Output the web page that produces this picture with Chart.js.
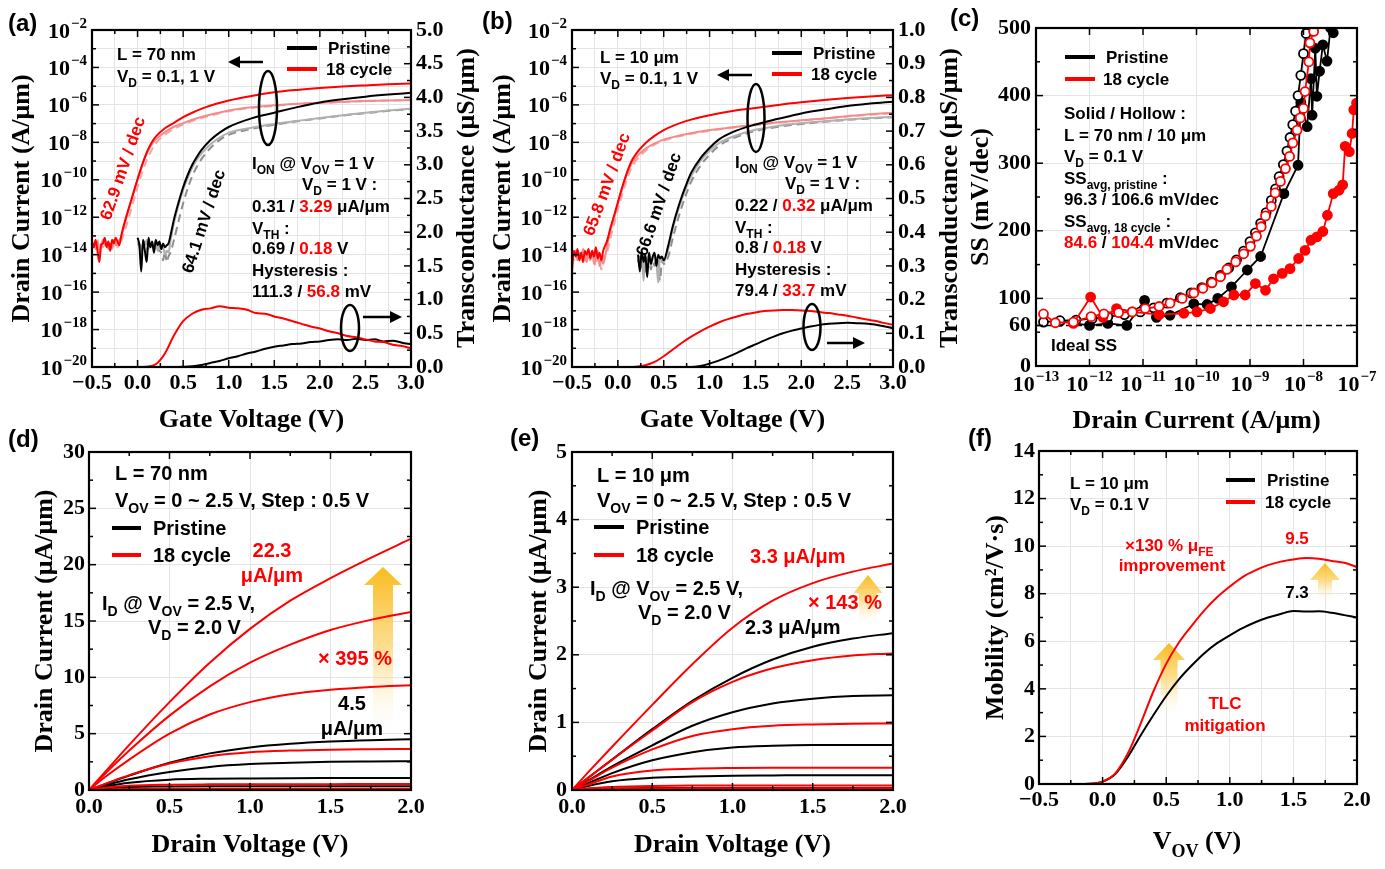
<!DOCTYPE html>
<html>
<head>
<meta charset="utf-8">
<script src="https://cdn.jsdelivr.net/npm/chart.js@4.4.1/dist/chart.umd.min.js"></script>
<style>
  html, body { margin: 0; padding: 0; background: #fff; }
  #fig { position: relative; width: 1385px; height: 869px; overflow: hidden; background: #fff; }
  #fig canvas { position: absolute; }
</style>
</head>
<body>
<div id="fig">
  <canvas id="pa"></canvas>
  <canvas id="pb"></canvas>
  <canvas id="pc"></canvas>
  <canvas id="pd"></canvas>
  <canvas id="pe"></canvas>
  <canvas id="pf"></canvas>
</div>
<script>
// ---- (a) L = 70 nm transfer curves ----
const aRedVg = [-0.50, -0.48, -0.46, -0.44, -0.42, -0.40, -0.38, -0.36, -0.34, -0.32, -0.30, -0.28, -0.26, -0.24, -0.22, -0.20, -0.18,
  -0.16, -0.12, -0.08, -0.04, 0.00, 0.05, 0.10, 0.15, 0.20, 0.30, 0.40, 0.50, 0.60, 0.75, 1.00, 1.25, 1.50, 1.75, 2.00, 2.25, 2.50, 2.75, 3.00];
const aRedHi = [5e-14, 2.5e-14, 6.3e-14, 1.6e-14, 4e-15, 3.2e-14, 4e-14, 8e-14, 2.5e-14, 5e-14, 1.6e-14, 6.3e-14, 4e-14, 8e-14, 5e-14, 3.2e-14, 1e-13,
  2.5e-13, 1.26e-12, 5.6e-12, 2.5e-11, 1.1e-10, 6.3e-10, 2.8e-9, 8.9e-9, 2e-8, 5.6e-8, 1.1e-7, 2.2e-7, 3.8e-7, 7.6e-7, 1.7e-6, 3e-6, 4.7e-6, 6.3e-6, 7.9e-6, 9.5e-6, 1.1e-5, 1.26e-5, 1.4e-5];
const aRedLo = [3.2e-14, 4e-14, 2e-14, 5e-14, 1.26e-14, 2.5e-14, 6.3e-14, 3.2e-14, 5e-14, 2e-14, 4e-14, 2.5e-14, 6.3e-14, 3.2e-14, 4e-14, 6.3e-14, 8e-14,
  2e-13, 1e-12, 5e-12, 2.2e-11, 1e-10, 5.6e-10, 2.4e-9, 7.1e-9, 1.4e-8, 3.5e-8, 6.8e-8, 1.07e-7, 1.6e-7, 2.6e-7, 5e-7, 7.4e-7, 9.5e-7, 1.15e-6, 1.32e-6, 1.48e-6, 1.62e-6, 1.74e-6, 1.82e-6];
const aRedRev = [4e-14, 2.5e-14, 3.2e-14, 6.3e-14, 2e-14, 4e-14, 2.5e-14, 5e-14, 3.2e-14, 3.2e-14, 5e-14, 2e-14, 4e-14, 5e-14, 2.5e-14, 4e-14, 5e-14,
  1e-13, 4e-13, 1.8e-12, 8.9e-12, 4e-11, 2.5e-10, 1.1e-9, 3.5e-9, 8.9e-9, 2.5e-8, 5.2e-8, 8.9e-8, 1.38e-7, 2.3e-7, 4.6e-7, 6.9e-7, 8.9e-7, 1.1e-6, 1.26e-6, 1.41e-6, 1.58e-6, 1.7e-6, 1.78e-6];
const aBlkVg = [0.00, 0.02, 0.04, 0.06, 0.08, 0.10, 0.12, 0.14, 0.16, 0.18, 0.20, 0.22, 0.24, 0.26, 0.28, 0.30, 0.32, 0.34,
  0.36, 0.40, 0.45, 0.50, 0.55, 0.60, 0.65, 0.70, 0.80, 0.90, 1.00, 1.25, 1.50, 1.75, 2.00, 2.25, 2.50, 2.75, 3.00];
const aBlkHi = [7.9e-14, 3.2e-14, 1.26e-15, 6.3e-14, 1.6e-14, 4e-15, 7.9e-14, 2.5e-14, 5e-14, 1.26e-14, 6.3e-14, 3.2e-14, 5e-14, 2e-14, 4e-14, 2.5e-14, 3.2e-14, 4e-14,
  1e-13, 7.9e-13, 6.3e-12, 4e-11, 1.8e-10, 6.3e-10, 1.66e-9, 3.8e-9, 1.32e-8, 3.3e-8, 6.6e-8, 1.9e-7, 3.8e-7, 7.6e-7, 1.35e-6, 2e-6, 2.75e-6, 3.55e-6, 4.4e-6];
const aBlkLo = [5e-14, 2.5e-14, 1.26e-14, 4e-14, 3.2e-14, 6.3e-14, 2e-14, 4e-14, 2.5e-14, 3.2e-14, 5e-14, 1.6e-14, 3.2e-14, 2e-14, 2.5e-14, 1e-14, 1.6e-14, 1.26e-14,
  5e-14, 5e-13, 4.5e-12, 2.8e-11, 1.26e-10, 4.5e-10, 1.17e-9, 2.5e-9, 7.9e-9, 1.8e-8, 3.2e-8, 6e-8, 9.5e-8, 1.4e-7, 2e-7, 2.8e-7, 3.8e-7, 5e-7, 6.3e-7];
const aBlkRev = [3.2e-14, 4e-14, 2e-14, 2.5e-14, 5e-14, 1.6e-14, 3.2e-14, 2.5e-14, 4e-14, 2e-14, 3.2e-14, 2.5e-14, 1.6e-14, 1.26e-14, 5e-15, 1.6e-14, 4e-15, 8e-15,
  1.26e-14, 6.3e-14, 6.3e-13, 5.6e-12, 3.5e-11, 1.6e-10, 5e-10, 1.26e-9, 5e-9, 1.32e-8, 2.5e-8, 5.2e-8, 8.7e-8, 1.32e-7, 1.9e-7, 2.7e-7, 3.6e-7, 4.8e-7, 6e-7];
const gmVg = [-0.5, -0.4, -0.3, -0.2, -0.1, 0.0, 0.1, 0.2, 0.3, 0.4, 0.5, 0.6, 0.7, 0.8, 0.9, 1.0, 1.1, 1.2, 1.3, 1.4, 1.5, 1.6, 1.7, 1.8,
  1.9, 2.0, 2.1, 2.2, 2.3, 2.4, 2.5, 2.6, 2.7, 2.8, 2.9, 3.0];
const aGmRed = [0, 0, 0, 0, 0, 0, 0.005, 0.04, 0.2, 0.47, 0.68, 0.79, 0.85, 0.87, 0.9, 0.88, 0.87, 0.85, 0.8, 0.79, 0.75, 0.72, 0.68, 0.64,
  0.6, 0.57, 0.53, 0.5, 0.46, 0.44, 0.41, 0.38, 0.37, 0.33, 0.31, 0.28];
const aGmBlk = [0, 0, 0, 0, 0, 0, 0, 0, 0, 0, 0.003, 0.01, 0.03, 0.06, 0.09, 0.13, 0.16, 0.2, 0.23, 0.27, 0.3, 0.32, 0.34, 0.35,
  0.37, 0.38, 0.4, 0.41, 0.4, 0.42, 0.4, 0.41, 0.38, 0.39, 0.36, 0.34];

// ---- (b) L = 10 um transfer curves ----
const bRedVg = [-0.50, -0.48, -0.46, -0.44, -0.42, -0.40, -0.38, -0.36, -0.34, -0.32, -0.30, -0.28, -0.26, -0.24, -0.22, -0.20, -0.18, -0.16,
  -0.12, -0.08, -0.04, 0.00, 0.05, 0.10, 0.15, 0.20, 0.30, 0.40, 0.50, 0.60, 0.75, 1.00, 1.25, 1.50, 1.75, 2.00, 2.25, 2.50, 2.75, 3.00];
const bRedHi = [1.26e-15, 1.6e-14, 8e-15, 2e-14, 5e-15, 1.26e-14, 4e-15, 1.6e-14, 1e-14, 2e-14, 6.3e-15, 1.6e-14, 8e-15, 2.5e-14, 6.3e-15, 1.26e-14, 5e-15, 1.6e-14,
  5e-14, 2.8e-13, 1.26e-12, 6.3e-12, 4.5e-11, 2.5e-10, 1e-9, 2.5e-9, 8.9e-9, 2.2e-8, 4.5e-8, 7.6e-8, 1.4e-7, 2.8e-7, 4.7e-7, 6.8e-7, 1e-6, 1.38e-6, 1.82e-6, 2.3e-6, 2.8e-6, 3.3e-6];
const bRedLo = [6.3e-15, 1e-14, 1.6e-14, 5e-15, 1.26e-14, 8e-15, 2e-14, 1e-14, 4e-15, 1.26e-14, 8e-15, 1.6e-14, 3.2e-15, 1e-14, 1.6e-14, 2.5e-15, 6.3e-15, 3.2e-15,
  2.5e-14, 2e-13, 1e-12, 5e-12, 3.5e-11, 2e-10, 7.1e-10, 1.6e-9, 4.5e-9, 8.9e-9, 1.4e-8, 1.9e-8, 2.8e-8, 4.5e-8, 6.3e-8, 8.7e-8, 1.17e-7, 1.5e-7, 1.9e-7, 2.5e-7, 3.2e-7, 3.8e-7];
const bRedRev = [1e-14, 5e-15, 1.26e-14, 8e-15, 4e-15, 1.6e-14, 6.3e-15, 3.2e-15, 1.26e-14, 8e-15, 5e-15, 1e-14, 6.3e-15, 2.5e-15, 8e-15, 5e-15, 1.6e-15, 6.3e-15,
  1.26e-14, 8e-14, 4.5e-13, 2.5e-12, 1.8e-11, 1.1e-10, 4.5e-10, 1.1e-9, 3.5e-9, 7.6e-9, 1.26e-8, 1.74e-8, 2.6e-8, 4.2e-8, 6e-8, 8.3e-8, 1.12e-7, 1.45e-7, 1.86e-7, 2.4e-7, 3e-7, 3.6e-7];
const bBlkVg = [0.22, 0.24, 0.26, 0.28, 0.30, 0.32, 0.34, 0.36, 0.38, 0.40, 0.42, 0.44, 0.46, 0.48, 0.50,
  0.55, 0.60, 0.65, 0.70, 0.75, 0.80, 0.90, 1.00, 1.10, 1.25, 1.50, 1.75, 2.00, 2.25, 2.50, 2.75, 3.00];
const bBlkHi = [1e-14, 1.26e-15, 1.6e-14, 4e-15, 1e-14, 6.3e-16, 1.26e-14, 3.2e-15, 8e-15, 1.26e-14, 2.5e-15, 1e-14, 6.3e-15, 8e-15, 5e-15,
  3.2e-14, 3.5e-13, 2.5e-12, 1.4e-11, 6.3e-11, 2.4e-10, 1.4e-9, 5e-9, 1.4e-8, 3.5e-8, 8.9e-8, 1.8e-7, 3.5e-7, 5.6e-7, 8.7e-7, 1.17e-6, 1.48e-6];
const bBlkLo = [6.3e-15, 3.2e-15, 1e-14, 4e-16, 8e-15, 5e-15, 1.26e-14, 2.5e-15, 6.3e-15, 1e-14, 4e-15, 3.2e-16, 8e-15, 5e-15, 4e-15,
  2e-14, 2.5e-13, 1.8e-12, 1e-11, 4.5e-11, 1.6e-10, 1e-9, 3.5e-9, 8.9e-9, 2e-8, 4.7e-8, 7.6e-8, 1.05e-7, 1.35e-7, 1.66e-7, 2e-7, 2.3e-7];
const bBlkRev = [4e-15, 8e-15, 2e-15, 6.3e-15, 1.26e-15, 5e-15, 8e-15, 1.6e-15, 4e-15, 2.5e-15, 6.3e-15, 3.2e-15, 4e-16, 5e-15, 3.2e-15,
  8e-15, 8e-14, 6.3e-13, 4e-12, 2e-11, 8e-11, 5.6e-10, 2.2e-9, 6.3e-9, 1.6e-8, 4e-8, 6.8e-8, 9.5e-8, 1.26e-7, 1.58e-7, 1.9e-7, 2.2e-7];
const bGmRed = [0, 0, 0, 0, 0, 0, 0, 0.001, 0.005, 0.015, 0.032, 0.052, 0.072, 0.09, 0.106, 0.12, 0.132, 0.142, 0.15, 0.157, 0.162, 0.166, 0.168, 0.169,
  0.169, 0.168, 0.166, 0.163, 0.16, 0.156, 0.152, 0.147, 0.142, 0.137, 0.131, 0.125];
const bGmBlk = [0, 0, 0, 0, 0, 0, 0, 0, 0, 0, 0, 0, 0, 0, 0.003, 0.01, 0.019, 0.03, 0.042, 0.055, 0.067, 0.079, 0.09, 0.1,
  0.108, 0.114, 0.12, 0.125, 0.128, 0.13, 0.131, 0.13, 0.129, 0.126, 0.121, 0.115];

// ---- (c) SS vs drain current ----
const cHolBlkI = [1.38e-13, 2.8e-13, 5.6e-13, 1.12e-12, 2.2e-12, 4.5e-12, 8.9e-12, 1.58e-11, 2.8e-11, 5e-11, 7.9e-11, 1.26e-10, 1.9e-10, 2.8e-10, 4e-10, 5.6e-10, 7.6e-10,
  1e-9, 1.26e-9, 1.58e-9, 2e-9, 2.5e-9, 3e-9, 3.5e-9, 4.2e-9, 4.9e-9, 5.6e-9, 6.3e-9, 7.1e-9, 7.9e-9, 8.9e-9, 1e-8, 1.12e-8, 1.26e-8];
const cHolBlkSS = [65, 67, 68, 70, 73, 76, 80, 86, 93, 101, 108, 116, 124, 134, 145, 157, 170,
  184, 197, 211, 227, 245, 262, 280, 298, 318, 338, 357, 377, 400, 430, 462, 492, 520];
const cHolRedI = [1.38e-13, 2.3e-13, 5e-13, 1.07e-12, 1.86e-12, 3.5e-12, 6.3e-12, 1.1e-11, 2e-11, 3.2e-11, 5.4e-11, 8.9e-11, 1.32e-10, 1.95e-10, 2.8e-10, 3.7e-10, 5.4e-10, 7.6e-10,
  1.02e-9, 1.32e-9, 1.62e-9, 1.95e-9, 2.5e-9, 2.95e-9, 3.7e-9, 4.6e-9, 5.5e-9, 6.3e-9, 7.6e-9, 8.7e-9, 1e-8, 1.07e-8, 1.26e-8, 1.32e-8, 1.55e-8, 1.74e-8];
const cHolRedSS = [77, 64, 65, 73, 77, 79, 80, 85, 88, 93, 100, 108, 115, 123, 132, 143, 154, 166,
  177, 192, 206, 222, 236, 256, 273, 292, 310, 330, 349, 367, 381, 406, 450, 478, 495, 520];
const cSolBlkI = [2.8e-13, 1e-12, 2.2e-12, 5e-12, 1.07e-11, 1.78e-11, 3.2e-11, 8.9e-11, 1.58e-10, 2.5e-10, 4.5e-10, 8.9e-10, 1.58e-9,
  4.3e-9, 7.9e-9, 8.9e-9, 1.17e-8, 1.38e-8, 1.45e-8, 1.66e-8, 1.78e-8, 2e-8, 2.3e-8, 2.75e-8, 3.2e-8, 3.6e-8];
const cSolBlkSS = [66, 60, 63, 60, 97, 72, 75, 92, 91, 100, 117, 142, 162,
  255, 297, 390, 354, 425, 371, 470, 399, 436, 475, 451, 500, 493];
const cSolRedI = [5e-13, 1.05e-12, 1.78e-12, 3.2e-12, 6.3e-12, 2e-11, 5.8e-11, 1.02e-10, 1.82e-10, 3.2e-10, 5e-10, 8.1e-10, 1.26e-9, 1.95e-9, 2.75e-9, 4e-9,
  5.6e-9, 8.1e-9, 1.07e-8, 1.38e-8, 1.78e-8, 2.3e-8, 2.8e-8, 3.6e-8, 4.6e-8, 5.4e-8, 6e-8, 7.2e-8, 8.1e-8, 8.7e-8, 9.8e-8];
const cSolRedSS = [63, 102, 72, 85, 80, 76, 78, 80, 85, 95, 105, 105, 122, 112, 129, 137,
  144, 159, 171, 186, 191, 199, 223, 255, 260, 268, 325, 317, 344, 379, 389];
const cIdealI = [1e-13, 1e-7];
const cIdealSS = [60, 60];

// ---- (d) / (e) output curves, Vov = 2.5, 2.0, 1.5, 1.0, 0.5, 0 V ----
const outVd = [0, 0.1, 0.25, 0.5, 0.75, 1.0, 1.25, 1.5, 1.75, 2.0];
const dRed = [
  [0, 1.6, 4.0, 7.8, 11.3, 14.3, 16.8, 18.8, 20.6, 22.3],
  [0, 1.45, 3.5, 6.6, 9.2, 11.3, 12.9, 14.2, 15.1, 15.8],
  [0, 1.15, 2.7, 5.0, 6.7, 7.8, 8.5, 8.9, 9.15, 9.3],
  [0, 0.54, 1.32, 2.35, 3.0, 3.35, 3.5, 3.58, 3.62, 3.65],
  [0, 0.2, 0.38, 0.47, 0.5, 0.51, 0.52, 0.52, 0.53, 0.53],
  [0, 0.05, 0.09, 0.11, 0.115, 0.12, 0.12, 0.12, 0.12, 0.12]
];
const dBlk = [
  [0, 0.52, 1.28, 2.42, 3.25, 3.78, 4.1, 4.3, 4.42, 4.5],
  [0, 0.4, 0.95, 1.6, 2.05, 2.3, 2.42, 2.5, 2.53, 2.55],
  [0, 0.3, 0.65, 0.92, 1.0, 1.03, 1.05, 1.06, 1.07, 1.07],
  [0, 0.15, 0.27, 0.31, 0.33, 0.33, 0.34, 0.34, 0.34, 0.34],
  [0, 0.03, 0.05, 0.06, 0.06, 0.06, 0.06, 0.06, 0.06, 0.06],
  [0, 0.005, 0.008, 0.01, 0.01, 0.01, 0.01, 0.01, 0.01, 0.01]
];
const eRed = [
  [0, 0.26, 0.64, 1.26, 1.86, 2.4, 2.8, 3.06, 3.23, 3.35],
  [0, 0.18, 0.45, 0.88, 1.3, 1.6, 1.8, 1.92, 1.99, 2.02],
  [0, 0.13, 0.33, 0.6, 0.8, 0.9, 0.95, 0.97, 0.98, 0.985],
  [0, 0.08, 0.2, 0.29, 0.315, 0.325, 0.33, 0.33, 0.33, 0.33],
  [0, 0.025, 0.045, 0.06, 0.065, 0.065, 0.065, 0.065, 0.065, 0.065],
  [0, 0.01, 0.02, 0.025, 0.025, 0.025, 0.025, 0.025, 0.025, 0.025]
];
const eBlk = [
  [0, 0.18, 0.45, 0.9, 1.32, 1.66, 1.93, 2.12, 2.24, 2.32],
  [0, 0.14, 0.35, 0.66, 0.95, 1.15, 1.28, 1.35, 1.39, 1.4],
  [0, 0.1, 0.25, 0.44, 0.56, 0.63, 0.655, 0.665, 0.665, 0.665],
  [0, 0.06, 0.13, 0.18, 0.2, 0.21, 0.215, 0.22, 0.22, 0.22],
  [0, 0.01, 0.02, 0.03, 0.03, 0.03, 0.03, 0.03, 0.03, 0.03],
  [0, 0.002, 0.004, 0.005, 0.005, 0.005, 0.005, 0.005, 0.005, 0.005]
];

// ---- (f) field-effect mobility ----
const fVov = [-0.5, -0.4, -0.3, -0.2, -0.1, 0.0, 0.1, 0.2, 0.3, 0.4, 0.5, 0.6, 0.7, 0.8, 0.9, 1.0, 1.1, 1.2, 1.3, 1.4, 1.5, 1.6, 1.7, 1.8, 1.9, 2.0];
const fRed = [0, 0, 0, 0, 0.01, 0.1, 0.45, 1.3, 2.55, 3.9, 5.05, 5.95, 6.65, 7.3, 7.85, 8.3, 8.7, 8.98, 9.2, 9.35, 9.44, 9.5, 9.47, 9.38, 9.3, 9.12];
const fBlk = [0, 0, 0, 0, 0.01, 0.1, 0.42, 1.15, 2.05, 2.9, 3.7, 4.4, 4.98, 5.5, 5.92, 6.25, 6.55, 6.8, 7.0, 7.15, 7.27, 7.25, 7.26, 7.2, 7.1, 7.0];

// ---------------------------------------------------------------
const SERIF = '"Liberation Serif", "Times New Roman", serif';
const SANS = '"Liberation Sans", Arial, sans-serif';
const RED = '#ff0000';
const PINK = '#f38b8b';
const PINK_D = '#f5a5a5';
const LGRAY = '#b0b0b0';
const DGRAY = '#8e8e8e';
const GRID = '#e4e4e4';
const CLEAR = 'rgba(0,0,0,0)';
const DECO = {};

function pow10(v) {
  return '10^' + Math.round(Math.log10(v));
}

function evenPow10(v) {
  const e = Math.round(Math.log10(v));
  return e % 2 === 0 ? pow10(v) : '';
}

function decades(a, b) {
  const out = [];
  for (let e = a; e <= b; e++) out.push(Number('1e' + e));
  return out;
}

function fmt(v, d) {
  if (Math.abs(v) < 1e-9) v = 0;
  return (v < 0 ? '\u2212' : '') + Math.abs(v).toFixed(d);
}

const sub = s => ({s: s, sub: true});
const red = s => ({s: s, c: RED});

function xy(xs, ys) {
  return xs.map((x, i) => ({x: x, y: ys[i]}));
}

function ds(xs, ys, color, dash, axis) {
  return {
    data: xy(xs, ys), borderColor: color, borderWidth: 2, borderDash: dash || [],
    pointRadius: 0, fill: false, cubicInterpolationMode: 'monotone', yAxisID: axis || 'y'
  };
}

function pts(xs, ys, color, hollow) {
  return {
    data: xy(xs, ys), borderColor: color, borderWidth: 1.8, tension: 0, fill: false,
    pointRadius: 4.5, pointBorderWidth: 1.8, pointBorderColor: color,
    pointBackgroundColor: hollow ? '#ffffff' : color
  };
}

function mkScale(o, rect, box) {
  const vert = o.pos === 'left' || o.pos === 'right';
  const LH = 26 * 1.2;
  let size, tpad;
  if (o.pos === 'left') {
    size = box.l - rect.x;
    tpad = o.titleAt - rect.x - LH / 2;
  } else if (o.pos === 'right') {
    size = rect.x + rect.w - box.r;
    tpad = 0;
  } else {
    size = rect.y + rect.h - box.b;
    tpad = rect.y + rect.h - o.titleAt - LH / 2;
  }
  const isMaj = v => !o.major || Math.abs(v / o.major - Math.round(v / o.major)) < 1e-6;
  const tickPad = vert ? (o.tickPad || 5) : (o.labelAt - box.b - 22 * 1.2 / 2);
  const s = {
    type: o.log ? 'logarithmic' : 'linear',
    position: o.pos,
    min: o.min,
    max: o.max,
    ticks: {
      autoSkip: false, maxRotation: 0, minRotation: 0, padding: tickPad,
      color: o.log ? CLEAR : '#000',   // log labels are drawn with real superscripts by the plugin
      font: {family: SERIF, size: 22, weight: 'bold', lineHeight: 1.2},
      callback: v => o.label ? o.label(v) : (isMaj(v) ? fmt(v, o.dec) : '')
    },
    grid: {
      drawTicks: false, lineWidth: 1, drawOnChartArea: o.grid !== 'none',
      color: c => {
        const t = c.tick;
        if (!t) return CLEAR;
        const on = o.gridIf ? o.gridIf(t.value) : (o.grid === 'all' || t.label !== '');
        return on ? GRID : CLEAR;
      }
    },
    border: {display: false},
    title: o.title ? {
      display: true, text: o.title, color: '#000',
      font: {family: SERIF, size: 26, weight: 'bold', lineHeight: 1.2},
      padding: vert ? {top: tpad, bottom: 0} : {top: 0, bottom: tpad}
    } : {display: false},
    afterFit: sc => {
      if (vert) { sc.width = size; sc.paddingTop = 0; sc.paddingBottom = 0; }
      else { sc.height = size; sc.paddingLeft = 0; sc.paddingRight = 0; }
    }
  };
  if (o.step) s.ticks.stepSize = o.step;
  if (o.tickList) s.afterBuildTicks = sc => { sc.ticks = o.tickList.map(v => ({value: v})); };
  return s;
}

function drawRich(ctx, x, y, parts, o) {
  const size = o.size, fam = o.fam || SANS;
  const segs = parts.map(p => typeof p === 'string' ? {s: p} : Object.assign({}, p));
  const fontOf = sg => 'bold ' + (sg.sub ? Math.round(size * 0.68) : size) + 'px ' + fam;
  let total = 0;
  segs.forEach(sg => { ctx.font = fontOf(sg); sg.w = ctx.measureText(sg.s).width; total += sg.w; });
  ctx.save();
  ctx.translate(x, y);
  if (o.rot) ctx.rotate(o.rot * Math.PI / 180);
  ctx.textBaseline = 'alphabetic';
  ctx.textAlign = 'left';
  let cx = o.align === 'center' ? -total / 2 : 0;
  const base = size * 0.36;
  segs.forEach(sg => {
    ctx.font = fontOf(sg);
    ctx.fillStyle = sg.c || o.color || '#000';
    ctx.fillText(sg.s, cx, base + (sg.sub ? size * 0.3 : 0));
    cx += sg.w;
  });
  ctx.restore();
}

// "10" with a raised exponent, like the printed log tick labels
function drawPow(ctx, x, y, e, align) {
  const big = 'bold 22px ' + SERIF, small = 'bold 15px ' + SERIF;
  const exp = (e < 0 ? '\u2212' : '') + Math.abs(e);
  ctx.save();
  ctx.font = big;
  const w1 = ctx.measureText('10').width;
  ctx.font = small;
  const w2 = ctx.measureText(exp).width;
  const total = w1 + 1 + w2;
  const x0 = align === 'right' ? x - total : x - total / 2;
  const base = y + 7.5;
  ctx.fillStyle = '#000';
  ctx.textBaseline = 'alphabetic';
  ctx.textAlign = 'left';
  ctx.font = big;
  ctx.fillText('10', x0, base);
  ctx.font = small;
  ctx.fillText(exp, x0 + w1 + 1, base - 10);
  ctx.restore();
}

function drawPowLabels(chart, P) {
  const ctx = chart.ctx, ca = chart.chartArea;
  ['x', 'y'].forEach(key => {
    const o = P[key];
    if (!o.log) return;
    const sc = chart.scales[key];
    sc.ticks.forEach(t => {
      if (!t.label) return;
      const e = Math.round(Math.log10(t.value));
      const p = sc.getPixelForValue(t.value);
      if (key === 'y') drawPow(ctx, ca.left - (o.tickPad || 5), p, e, 'right');
      else drawPow(ctx, p, ca.bottom + (o.labelAt - P.box.b), e, 'center');
    });
  });
}

function arrow(ctx, x1, y1, x2, y2) {
  const ang = Math.atan2(y2 - y1, x2 - x1), hl = 12, hw = 6;
  const bx = x2 - Math.cos(ang) * hl, by = y2 - Math.sin(ang) * hl;
  ctx.strokeStyle = '#000';
  ctx.lineWidth = 2.5;
  ctx.beginPath(); ctx.moveTo(x1, y1); ctx.lineTo(bx, by); ctx.stroke();
  ctx.fillStyle = '#000';
  ctx.beginPath();
  ctx.moveTo(x2, y2);
  ctx.lineTo(bx + Math.sin(ang) * hw, by - Math.cos(ang) * hw);
  ctx.lineTo(bx - Math.sin(ang) * hw, by + Math.cos(ang) * hw);
  ctx.closePath(); ctx.fill();
}

function drawAnn(chart, under) {
  const P = DECO[chart.canvas.id];
  if (!P) return;
  const ctx = chart.ctx, ca = chart.chartArea, box = P.box;
  const sx = (ca.right - ca.left) / (box.r - box.l), sy = (ca.bottom - ca.top) / (box.b - box.t);
  const m = (x, y) => [ca.left + (x - box.l) * sx, ca.top + (y - box.t) * sy];
  P.ann.forEach(a => {
    if ((a.k === 'y') !== under) return;
    ctx.save();
    if (a.k === 't') {
      const [x, y] = m(a.x, a.y);
      drawRich(ctx, x, y, a.p, Object.assign({}, a, {size: a.size || P.fs}));
    } else if (a.k === 'l') {
      const [x1, y1] = m(a.x1, a.y1), [x2, y2] = m(a.x2, a.y2);
      ctx.strokeStyle = a.c; ctx.lineWidth = 4;
      ctx.beginPath(); ctx.moveTo(x1, y1); ctx.lineTo(x2, y2); ctx.stroke();
    } else if (a.k === 'a') {
      const [x1, y1] = m(a.x1, a.y1), [x2, y2] = m(a.x2, a.y2);
      arrow(ctx, x1, y1, x2, y2);
    } else if (a.k === 'e') {
      const [x, y] = m(a.x, a.y);
      ctx.strokeStyle = '#000'; ctx.lineWidth = 2.5;
      ctx.beginPath(); ctx.ellipse(x, y, a.rx * sx, a.ry * sy, 0, 0, Math.PI * 2); ctx.stroke();
    } else if (a.k === 'y') {
      const [cx, tip] = m(a.x, a.tip), base = m(a.x, a.base)[1], bot = m(a.x, a.bot)[1];
      const g = ctx.createLinearGradient(0, tip, 0, bot);
      g.addColorStop(0, 'rgba(249,184,18,0.95)');
      g.addColorStop(0.5, 'rgba(252,208,96,0.7)');
      g.addColorStop(1, 'rgba(255,244,220,0.05)');
      ctx.fillStyle = g;
      ctx.beginPath();
      ctx.moveTo(cx, tip);
      ctx.lineTo(cx + a.hw, base); ctx.lineTo(cx + a.sw, base); ctx.lineTo(cx + a.sw, bot);
      ctx.lineTo(cx - a.sw, bot); ctx.lineTo(cx - a.sw, base); ctx.lineTo(cx - a.hw, base);
      ctx.closePath(); ctx.fill();
    }
    ctx.restore();
  });
}

function tickMarks(ctx, sc, ca, sides) {
  sc.ticks.forEach(t => {
    const p = sc.getPixelForValue(t.value);
    const len = t.label ? 7 : 4;
    sides.forEach(side => {
      ctx.beginPath();
      if (side === 'bottom') { ctx.moveTo(p, ca.bottom); ctx.lineTo(p, ca.bottom - len); }
      if (side === 'top') { ctx.moveTo(p, ca.top); ctx.lineTo(p, ca.top + len); }
      if (side === 'left') { ctx.moveTo(ca.left, p); ctx.lineTo(ca.left + len, p); }
      if (side === 'right') { ctx.moveTo(ca.right, p); ctx.lineTo(ca.right - len, p); }
      ctx.stroke();
    });
  });
}

const decoPlugin = {
  id: 'deco',
  beforeDatasetsDraw(chart) { drawAnn(chart, true); },
  afterDraw(chart) {
    const {ctx, chartArea: ca, scales} = chart;
    ctx.save();
    ctx.strokeStyle = '#000';
    ctx.lineWidth = 1.5;
    tickMarks(ctx, scales.x, ca, ['bottom', 'top']);
    if (scales.y2) {
      tickMarks(ctx, scales.y, ca, ['left']);
      tickMarks(ctx, scales.y2, ca, ['right']);
    } else {
      tickMarks(ctx, scales.y, ca, ['left', 'right']);
    }
    ctx.lineWidth = 2.2;
    ctx.strokeRect(ca.left, ca.top, ca.right - ca.left, ca.bottom - ca.top);
    ctx.restore();
    drawPowLabels(chart, DECO[chart.canvas.id]);
    drawAnn(chart, false);
  }
};

function buildPanel(id, P) {
  const cv = document.getElementById(id);
  const {rect, box} = P;
  cv.width = rect.w; cv.height = rect.h;
  cv.style.left = rect.x + 'px'; cv.style.top = rect.y + 'px';
  cv.style.width = rect.w + 'px'; cv.style.height = rect.h + 'px';
  DECO[id] = P;
  const scales = {x: mkScale(P.x, rect, box), y: mkScale(P.y, rect, box)};
  if (P.y2) scales.y2 = mkScale(P.y2, rect, box);
  return new Chart(cv, {
    type: 'line',
    data: {datasets: P.datasets},
    options: {
      responsive: false,
      animation: false,
      events: [],
      layout: {
        autoPadding: false,
        padding: {top: box.t - rect.y, left: 0, bottom: 0, right: P.y2 ? 0 : rect.x + rect.w - box.r}
      },
      plugins: {legend: {display: false}, tooltip: {enabled: false}},
      scales: scales
    },
    plugins: [decoPlugin]
  });
}

function outputSets(red, blk) {
  const sets = [];
  red.forEach(r => sets.push(ds(outVd, r, RED)));
  blk.forEach(b => sets.push(ds(outVd, b, '#000')));
  return sets;
}

// ---- panel (a) ----
buildPanel('pa', {
  rect: {x: 0, y: 0, w: 482, h: 440}, box: {l: 92, t: 30, r: 411, b: 367}, fs: 17,
  x: {pos: 'bottom', min: -0.5, max: 3, step: 0.25, major: 0.5, dec: 1, labelAt: 383, titleAt: 420, title: 'Gate Voltage (V)', grid: 'all'},
  y: {pos: 'left', log: true, min: 1e-20, max: 1e-2, tickList: decades(-20, -2), label: evenPow10, tickPad: 5,
      title: 'Drain Current (A/\u03bcm)', titleAt: 22, grid: 'all'},
  y2: {pos: 'right', min: 0, max: 5, step: 0.25, major: 0.5, dec: 1, tickPad: 5, grid: 'none'},
  datasets: [
    ds(aRedVg, aRedHi, RED), ds(aBlkVg, aBlkHi, '#000'),
    ds(aRedVg, aRedLo, PINK), ds(aBlkVg, aBlkLo, LGRAY),
    ds(aRedVg, aRedRev, PINK_D, [8, 5]), ds(aBlkVg, aBlkRev, DGRAY, [8, 5]),
    ds(gmVg, aGmRed, RED, null, 'y2'), ds(gmVg, aGmBlk, '#000', null, 'y2')
  ],
  ann: [
    {k: 't', x: 8, y: 22, p: ['(a)'], size: 24},
    {k: 't', x: 465, y: 198, p: ['Transconductance (\u03bcS/\u03bcm)'], fam: SERIF, size: 26, align: 'center', rot: -90},
    {k: 't', x: 117, y: 54, p: ['L = 70 nm']},
    {k: 't', x: 117, y: 76, p: ['V', sub('D'), ' = 0.1, 1 V']},
    {k: 'a', x1: 263, y1: 62, x2: 228, y2: 62},
    {k: 'l', x1: 287, y1: 48, x2: 317, y2: 48, c: '#000'},
    {k: 't', x: 328, y: 48, p: ['Pristine']},
    {k: 'l', x1: 287, y1: 69, x2: 317, y2: 69, c: RED},
    {k: 't', x: 326, y: 69, p: ['18 cycle']},
    {k: 'e', x: 268, y: 108, rx: 9, ry: 37},
    {k: 't', x: 252, y: 163, p: ['I', sub('ON'), ' @ V', sub('OV'), ' = 1 V']},
    {k: 't', x: 302, y: 184, p: ['V', sub('D'), ' = 1 V :']},
    {k: 't', x: 252, y: 206, p: ['0.31 / ', red('3.29'), ' \u03bcA/\u03bcm']},
    {k: 't', x: 252, y: 228, p: ['V', sub('TH'), ' :']},
    {k: 't', x: 252, y: 248, p: ['0.69 / ', red('0.18'), ' V']},
    {k: 't', x: 252, y: 270, p: ['Hysteresis :']},
    {k: 't', x: 252, y: 291, p: ['111.3 / ', red('56.8'), ' mV']},
    {k: 'e', x: 350, y: 328, rx: 9, ry: 23},
    {k: 'a', x1: 363, y1: 317, x2: 402, y2: 317},
    {k: 't', x: 122, y: 168, p: ['62.9 mV / dec'], color: RED, align: 'center', rot: -71},
    {k: 't', x: 203, y: 221, p: ['64.1 mV / dec'], align: 'center', rot: -72}
  ]
});

// ---- panel (b) ----
buildPanel('pb', {
  rect: {x: 478, y: 0, w: 490, h: 440}, box: {l: 572, t: 30, r: 893, b: 367}, fs: 17,
  x: {pos: 'bottom', min: -0.5, max: 3, step: 0.25, major: 0.5, dec: 1, labelAt: 383, titleAt: 420, title: 'Gate Voltage (V)', grid: 'all'},
  y: {pos: 'left', log: true, min: 1e-20, max: 1e-2, tickList: decades(-20, -2), label: evenPow10, tickPad: 5,
      title: 'Drain Current (A/\u03bcm)', titleAt: 503, grid: 'all'},
  y2: {pos: 'right', min: 0, max: 1, step: 0.05, major: 0.1, dec: 1, tickPad: 5, grid: 'none'},
  datasets: [
    ds(bRedVg, bRedHi, RED), ds(bBlkVg, bBlkHi, '#000'),
    ds(bRedVg, bRedLo, PINK), ds(bBlkVg, bBlkLo, LGRAY),
    ds(bRedVg, bRedRev, PINK_D, [8, 5]), ds(bBlkVg, bBlkRev, DGRAY, [8, 5]),
    ds(gmVg, bGmRed, RED, null, 'y2'), ds(gmVg, bGmBlk, '#000', null, 'y2')
  ],
  ann: [
    {k: 't', x: 482, y: 20, p: ['(b)'], size: 24},
    {k: 't', x: 948, y: 198, p: ['Transconductance (\u03bcS/\u03bcm)'], fam: SERIF, size: 26, align: 'center', rot: -90},
    {k: 't', x: 600, y: 57, p: ['L = 10 \u03bcm']},
    {k: 't', x: 600, y: 78, p: ['V', sub('D'), ' = 0.1, 1 V']},
    {k: 'a', x1: 752, y1: 75, x2: 717, y2: 75},
    {k: 'l', x1: 772, y1: 53, x2: 802, y2: 53, c: '#000'},
    {k: 't', x: 813, y: 53, p: ['Pristine']},
    {k: 'l', x1: 772, y1: 74, x2: 802, y2: 74, c: RED},
    {k: 't', x: 811, y: 74, p: ['18 cycle']},
    {k: 'e', x: 756, y: 118, rx: 8.5, ry: 34},
    {k: 't', x: 735, y: 162, p: ['I', sub('ON'), ' @ V', sub('OV'), ' = 1 V']},
    {k: 't', x: 785, y: 183, p: ['V', sub('D'), ' = 1 V :']},
    {k: 't', x: 735, y: 205, p: ['0.22 / ', red('0.32'), ' \u03bcA/\u03bcm']},
    {k: 't', x: 735, y: 227, p: ['V', sub('TH'), ' :']},
    {k: 't', x: 735, y: 247, p: ['0.8 / ', red('0.18'), ' V']},
    {k: 't', x: 735, y: 269, p: ['Hysteresis :']},
    {k: 't', x: 735, y: 290, p: ['79.4 / ', red('33.7'), ' mV']},
    {k: 'e', x: 812, y: 327, rx: 8.5, ry: 23},
    {k: 'a', x1: 827, y1: 343, x2: 865, y2: 343},
    {k: 't', x: 606, y: 184, p: ['65.8 mV / dec'], color: RED, align: 'center', rot: -70},
    {k: 't', x: 658, y: 204, p: ['66.6 mV / dec'], align: 'center', rot: -71}
  ]
});

// ---- panel (c) ----
buildPanel('pc', {
  rect: {x: 950, y: 0, w: 435, h: 440}, box: {l: 1036, t: 28, r: 1357, b: 366}, fs: 17,
  x: {pos: 'bottom', log: true, min: 1e-13, max: 1e-7, tickList: decades(-13, -7), label: pow10, labelAt: 383,
      titleAt: 421, title: 'Drain Current (A/\u03bcm)', grid: 'all'},
  y: {pos: 'left', min: 0, max: 500, tickList: [0, 50, 60, 100, 150, 200, 250, 300, 350, 400, 450, 500],
      label: v => [0, 60, 100, 200, 300, 400, 500].indexOf(v) >= 0 ? String(v) : '', tickPad: 5,
      title: 'SS (mV/dec)', titleAt: 981, gridIf: v => v % 100 === 0},
  datasets: [
    pts(cHolRedI, cHolRedSS, RED, true),
    pts(cSolRedI, cSolRedSS, RED, false),
    pts(cHolBlkI, cHolBlkSS, '#000', true),
    pts(cSolBlkI, cSolBlkSS, '#000', false),
    {data: xy(cIdealI, cIdealSS), borderColor: '#000', borderWidth: 1.6, borderDash: [6, 4], pointRadius: 0, fill: false}
  ],
  ann: [
    {k: 't', x: 950, y: 17, p: ['(c)'], size: 24},
    {k: 'l', x1: 1065, y1: 57, x2: 1095, y2: 57, c: '#000'},
    {k: 't', x: 1106, y: 57, p: ['Pristine']},
    {k: 'l', x1: 1065, y1: 79, x2: 1095, y2: 79, c: RED},
    {k: 't', x: 1103, y: 79, p: ['18 cycle']},
    {k: 't', x: 1064, y: 113, p: ['Solid / Hollow :']},
    {k: 't', x: 1064, y: 135, p: ['L = 70 nm / 10 \u03bcm']},
    {k: 't', x: 1064, y: 156, p: ['V', sub('D'), ' = 0.1 V']},
    {k: 't', x: 1064, y: 178, p: ['SS', sub('avg, pristine'), ' :']},
    {k: 't', x: 1064, y: 199, p: ['96.3 / 106.6 mV/dec']},
    {k: 't', x: 1064, y: 221, p: ['SS', sub('avg, 18 cycle'), ' :']},
    {k: 't', x: 1064, y: 242, p: [red('84.6'), ' / ', red('104.4'), ' mV/dec']},
    {k: 't', x: 1051, y: 345, p: ['Ideal SS']}
  ]
});

// ---- panel (d) ----
buildPanel('pd', {
  rect: {x: 0, y: 420, w: 470, h: 449}, box: {l: 89, t: 452, r: 411, b: 790}, fs: 20,
  x: {pos: 'bottom', min: 0, max: 2, step: 0.25, major: 0.5, dec: 1, labelAt: 807, titleAt: 845, title: 'Drain Voltage (V)', grid: 'major'},
  y: {pos: 'left', min: 0, max: 30, step: 2.5, major: 5, dec: 0, tickPad: 4, title: 'Drain Current (\u03bcA/\u03bcm)', titleAt: 45, grid: 'major'},
  datasets: outputSets(dRed, dBlk),
  ann: [
    {k: 't', x: 8, y: 438, p: ['(d)'], size: 24},
    {k: 't', x: 115, y: 473, p: ['L = 70 nm']},
    {k: 't', x: 115, y: 500, p: ['V', sub('OV'), ' = 0 ~ 2.5 V, Step : 0.5 V']},
    {k: 'l', x1: 112, y1: 528, x2: 141, y2: 528, c: '#000'},
    {k: 't', x: 153, y: 528, p: ['Pristine']},
    {k: 'l', x1: 112, y1: 555, x2: 141, y2: 555, c: RED},
    {k: 't', x: 153, y: 555, p: ['18 cycle']},
    {k: 't', x: 272, y: 550, p: ['22.3'], color: RED, align: 'center'},
    {k: 't', x: 272, y: 575, p: ['\u03bcA/\u03bcm'], color: RED, align: 'center'},
    {k: 't', x: 102, y: 603, p: ['I', sub('D'), ' @ V', sub('OV'), ' = 2.5 V,']},
    {k: 't', x: 148, y: 627, p: ['V', sub('D'), ' = 2.0 V']},
    {k: 't', x: 318, y: 658, p: ['\u00d7 395 %'], color: RED},
    {k: 't', x: 352, y: 703, p: ['4.5'], align: 'center'},
    {k: 't', x: 352, y: 728, p: ['\u03bcA/\u03bcm'], align: 'center'},
    {k: 'y', x: 383, tip: 567, base: 585, bot: 727, hw: 19, sw: 10}
  ]
});

// ---- panel (e) ----
buildPanel('pe', {
  rect: {x: 500, y: 420, w: 440, h: 449}, box: {l: 572, t: 452, r: 893, b: 790}, fs: 20,
  x: {pos: 'bottom', min: 0, max: 2, step: 0.25, major: 0.5, dec: 1, labelAt: 807, titleAt: 845, title: 'Drain Voltage (V)', grid: 'major'},
  y: {pos: 'left', min: 0, max: 5, step: 0.5, major: 1, dec: 0, tickPad: 5, title: 'Drain Current (\u03bcA/\u03bcm)', titleAt: 539, grid: 'major'},
  datasets: outputSets(eRed, eBlk),
  ann: [
    {k: 't', x: 510, y: 437, p: ['(e)'], size: 24},
    {k: 't', x: 597, y: 475, p: ['L = 10 \u03bcm']},
    {k: 't', x: 597, y: 500, p: ['V', sub('OV'), ' = 0 ~ 2.5 V, Step : 0.5 V']},
    {k: 'l', x1: 594, y1: 527, x2: 624, y2: 527, c: '#000'},
    {k: 't', x: 636, y: 527, p: ['Pristine']},
    {k: 'l', x1: 594, y1: 555, x2: 624, y2: 555, c: RED},
    {k: 't', x: 636, y: 555, p: ['18 cycle']},
    {k: 't', x: 750, y: 556, p: ['3.3 \u03bcA/\u03bcm'], color: RED},
    {k: 't', x: 590, y: 588, p: ['I', sub('D'), ' @ V', sub('OV'), ' = 2.5 V,']},
    {k: 't', x: 638, y: 612, p: ['V', sub('D'), ' = 2.0 V']},
    {k: 't', x: 808, y: 602, p: ['\u00d7 143 %'], color: RED},
    {k: 't', x: 745, y: 627, p: ['2.3 \u03bcA/\u03bcm']},
    {k: 'y', x: 868, tip: 575, base: 593, bot: 623, hw: 14.5, sw: 9}
  ]
});

// ---- panel (f) ----
buildPanel('pf', {
  rect: {x: 950, y: 420, w: 435, h: 449}, box: {l: 1039, t: 451, r: 1357, b: 784}, fs: 17,
  x: {pos: 'bottom', min: -0.5, max: 2, step: 0.25, major: 0.5, dec: 1, labelAt: 800, titleAt: 840, grid: 'all'},
  y: {pos: 'left', min: 0, max: 14, step: 1, major: 2, dec: 0, tickPad: 4, title: 'Mobility (cm\u00b2/V\u00b7s)', titleAt: 996, grid: 'major'},
  datasets: [ds(fVov, fRed, RED), ds(fVov, fBlk, '#000')],
  ann: [
    {k: 't', x: 968, y: 437, p: ['(f)'], size: 24},
    {k: 't', x: 1070, y: 483, p: ['L = 10 \u03bcm']},
    {k: 't', x: 1070, y: 504, p: ['V', sub('D'), ' = 0.1 V']},
    {k: 'l', x1: 1226, y1: 480, x2: 1255, y2: 480, c: '#000'},
    {k: 't', x: 1267, y: 480, p: ['Pristine']},
    {k: 'l', x1: 1226, y1: 502, x2: 1255, y2: 502, c: RED},
    {k: 't', x: 1265, y: 502, p: ['18 cycle']},
    {k: 't', x: 1125, y: 545, p: ['\u00d7130 % \u03bc', sub('FE')], color: RED},
    {k: 't', x: 1172, y: 565, p: ['improvement'], color: RED, align: 'center'},
    {k: 't', x: 1297, y: 538, p: ['9.5'], color: RED, align: 'center'},
    {k: 't', x: 1297, y: 592, p: ['7.3'], align: 'center'},
    {k: 't', x: 1225, y: 703, p: ['TLC'], color: RED, align: 'center'},
    {k: 't', x: 1225, y: 725, p: ['mitigation'], color: RED, align: 'center'},
    {k: 'y', x: 1325, tip: 563, base: 580, bot: 600, hw: 15, sw: 7},
    {k: 'y', x: 1169, tip: 643, base: 660, bot: 713, hw: 16, sw: 8.5},
    {k: 't', x: 1197, y: 840, p: ['V', sub('OV'), ' (V)'], fam: SERIF, size: 26, align: 'center'}
  ]
});
</script>
</body>
</html>
